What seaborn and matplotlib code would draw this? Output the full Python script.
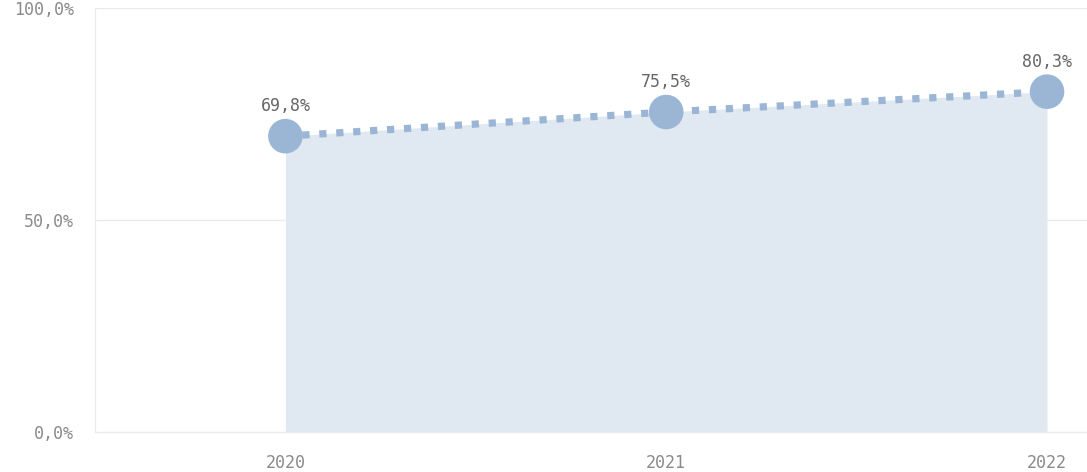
import seaborn as sns
import matplotlib.pyplot as plt
from matplotlib.ticker import FuncFormatter

years = ['2020', '2021', '2022']
share = [69.8, 75.5, 80.3]
labels = ['69,8%', '75,5%', '80,3%']

sns.set_style('white')
plt.rcParams['font.family'] = ['DejaVu Sans Mono', 'DejaVu Sans']

fig = plt.figure(figsize=(10.87, 4.72), dpi=100)
ax = fig.add_axes([0.0874, 0.0847, 0.9126, 0.898])

xpos = list(range(len(years)))
line_col = '#9bb6d5'

ax.fill_between(xpos, share, 0, color='#e0e8f2', lw=0, zorder=1)
sns.lineplot(x=xpos, y=share, ax=ax, color=line_col, zorder=2)
ln = ax.lines[-1]
ln.set_linewidth(5.2)
ln.set_linestyle((0, (1.0, 1.35)))
ln.set_dash_capstyle('butt')
sns.scatterplot(x=xpos, y=share, ax=ax, color=line_col, s=620,
                edgecolor='none', zorder=3)

for x, y, t in zip(xpos, share, labels):
    ax.annotate(t, (x, y), xytext=(0, 15), textcoords='offset points',
                ha='center', va='bottom', fontsize=12, color='#666666')

ax.set_xlim(-0.5, 2.105)
ax.set_ylim(0, 100)
ax.set_xticks(xpos)
ax.set_xticklabels(years)
ax.set_yticks([0, 50, 100])
ax.yaxis.set_major_formatter(FuncFormatter(lambda v, p: f'{v:.1f}%'.replace('.', ',')))
ax.grid(axis='y', color='#ebebeb', lw=1)
ax.set_axisbelow(True)

for s in ['top', 'right']:
    ax.spines[s].set_visible(False)
ax.spines['left'].set_color('#ebebeb')
ax.spines['bottom'].set_color('#ebebeb')
ax.tick_params(axis='y', length=10, color='#ebebeb', labelsize=12,
               labelcolor='#8a8a8a', pad=5)
ax.tick_params(axis='x', length=0, labelsize=12, labelcolor='#8a8a8a', pad=16)
ax.set_xlabel('')
ax.set_ylabel('')

fig.savefig('out.png', dpi=100)
